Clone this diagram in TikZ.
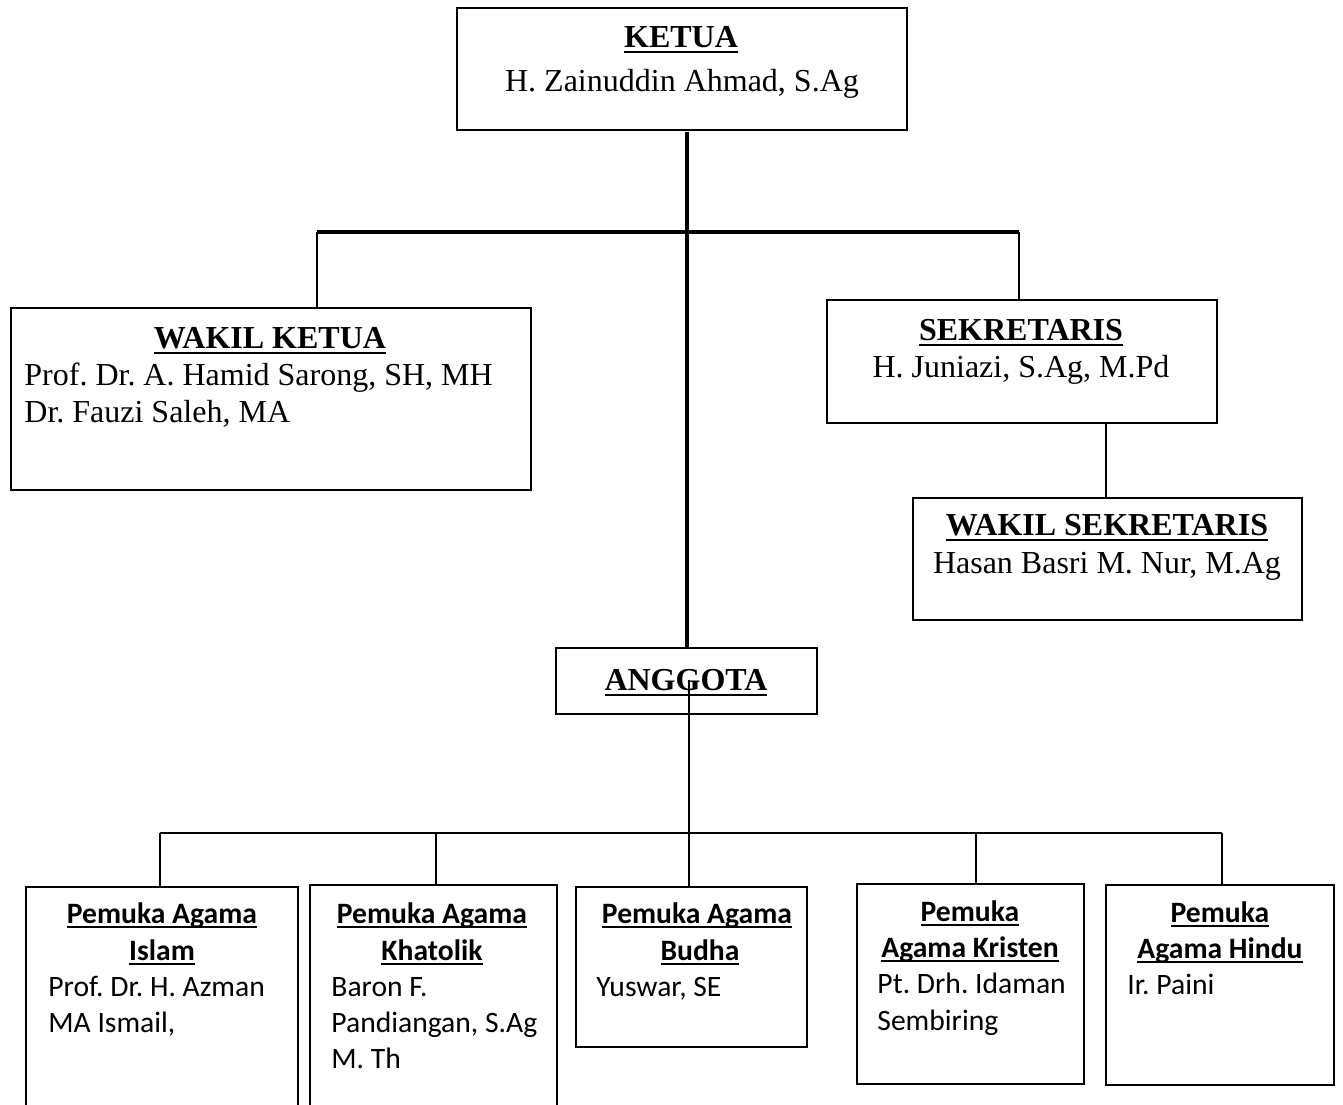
\documentclass[tikz,border=0pt]{standalone}
\usepackage{fontspec}
\setmainfont{Liberation Serif}
\newfontfamily\calib{Carlito}
\usetikzlibrary{fit}
\frenchspacing
\newsavebox\myulbox
\newcommand\myul[2]{\sbox\myulbox{#2}\rlap{\rule[#1]{\wd\myulbox}{1.1pt}}\usebox\myulbox}
\tikzset{
  box/.style={draw, line width=1pt, inner sep=0pt},
  trunkline/.style={line width=2pt},
  barline/.style={line width=1.6pt},
  linkline/.style={line width=0.9pt},
  tms/.style={font=\fontsize{16}{19}\selectfont, inner sep=0pt},
  cal/.style={font=\calib\fontsize{14.8}{18}\selectfont, inner sep=0pt},
}
\begin{document}
\begin{tikzpicture}[x=0.5pt,y=-0.5pt]
\fill[white] (0,0) rectangle (1343,1104);
\useasboundingbox (0,0) rectangle (1343,1104);
\clip (0,0) rectangle (1343,1104);

% boxes
\node[box, fit={(457,8) (907,130)}] (ketua) {};
\node[box, fit={(11,308) (531,490)}] (wakil) {};
\node[box, fit={(827,300) (1217,423)}] (sek) {};
\node[box, fit={(913,498) (1302,620)}] (wsek) {};
\node[box, fit={(556,648) (817,714)}] (anggota) {};
\node[box, fit={(26,887) (298,1130)}] (islam) {};
\node[box, fit={(310,885) (557,1130)}] (katolik) {};
\node[box, fit={(576,887) (807,1047)}] (budha) {};
\node[box, fit={(857,884) (1084,1084)}] (kristen) {};
\node[box, fit={(1106,885) (1334,1085)}] (hindu) {};

% top texts
\node[tms, anchor=base] (ketuaH) at (681,47) {\myul{-3pt}{\textbf{KETUA}}};
\node[tms, anchor=base] (ketuaN) at (682,91) {H. Zainuddin Ahmad, S.Ag};
\node[tms, anchor=base] (wakilH) at (270,348) {\myul{-3pt}{\textbf{WAKIL KETUA}}};
\node[tms, anchor=base west] (wakilN1) at (24,385) {Prof. Dr. A. Hamid Sarong, SH, MH};
\node[tms, anchor=base west] (wakilN2) at (24,422) {Dr. Fauzi Saleh, MA};
\node[tms, anchor=base] (sekH) at (1021,340) {\myul{-3pt}{\textbf{SEKRETARIS}}};
\node[tms, anchor=base] (sekN) at (1021,377) {H. Juniazi, S.Ag, M.Pd};
\node[tms, anchor=base] (wsekH) at (1107,535) {\myul{-3pt}{\textbf{WAKIL SEKRETARIS}}};
\node[tms, anchor=base] (wsekN) at (1107,573) {Hasan Basri M. Nur, M.Ag};
\node[tms, anchor=base] (anggotaH) at (686,690) {\myul{-3pt}{\textbf{ANGGOTA}}};

% bottom texts
\node[cal, anchor=base] (islamH1) at (162,923) {\myul{-2.6pt}{\textbf{Pemuka Agama}}};
\node[cal, anchor=base] (islamH2) at (162,960) {\myul{-2.6pt}{\textbf{Islam}}};
\node[cal, anchor=base west] (islamN1) at (48,996) {Prof. Dr. H. Azman};
\node[cal, anchor=base west] (islamN2) at (48,1032) {MA Ismail,};

\node[cal, anchor=base] (katH1) at (432,923) {\myul{-2.6pt}{\textbf{Pemuka Agama}}};
\node[cal, anchor=base] (katH2) at (432,960) {\myul{-2.6pt}{\textbf{Khatolik}}};
\node[cal, anchor=base west] (katN1) at (331,996) {Baron F.};
\node[cal, anchor=base west] (katN2) at (331,1032) {Pandiangan, S.Ag};
\node[cal, anchor=base west] (katN3) at (331,1068) {M. Th};

\node[cal, anchor=base] (budH1) at (697,923) {\myul{-2.6pt}{\textbf{Pemuka Agama}}};
\node[cal, anchor=base] (budH2) at (700,960) {\myul{-2.6pt}{\textbf{Budha}}};
\node[cal, anchor=base west] (budN1) at (596,996) {Yuswar, SE};

\node[cal, anchor=base] (krisH1) at (970,921) {\myul{-2.6pt}{\textbf{Pemuka}}};
\node[cal, anchor=base] (krisH2) at (970,957) {\myul{-2.6pt}{\textbf{Agama Kristen}}};
\node[cal, anchor=base west] (krisN1) at (877,993) {Pt. Drh. Idaman};
\node[cal, anchor=base west] (krisN2) at (877,1030) {Sembiring};

\node[cal, anchor=base] (hinH1) at (1220,922) {\myul{-2.6pt}{\textbf{Pemuka}}};
\node[cal, anchor=base] (hinH2) at (1220,958) {\myul{-2.6pt}{\textbf{Agama Hindu}}};
\node[cal, anchor=base west] (hinN1) at (1127,994) {Ir. Paini};

% connectors top
\coordinate (tk) at (687,132);
\draw[trunkline] (tk) -- (tk |- anggota.north);
\coordinate (busL) at (317,232);
\coordinate (busR) at (1019,232);
\draw[barline] (busL) -- (busR);
\draw[linkline] (busL) -- (busL |- wakil.north);
\draw[linkline] (busR) -- (busR |- sek.north);
\coordinate (sd) at (1106,460);
\draw[linkline] (sd |- sek.south) -- (sd |- wsek.north);

% connectors bottom
\coordinate (ag) at (689,680);
\draw[linkline] (ag) -- (ag |- budha.north);
\coordinate (b1) at (160,833);
\coordinate (b2) at (436,833);
\coordinate (b4) at (976,833);
\coordinate (b5) at (1222,833);
\draw[linkline] (b1) -- (b5);
\draw[linkline] (b1) -- (b1 |- islam.north);
\draw[linkline] (b2) -- (b2 |- katolik.north);
\draw[linkline] (b4) -- (b4 |- kristen.north);
\draw[linkline] (b5) -- (b5 |- hindu.north);
\end{tikzpicture}
\end{document}
